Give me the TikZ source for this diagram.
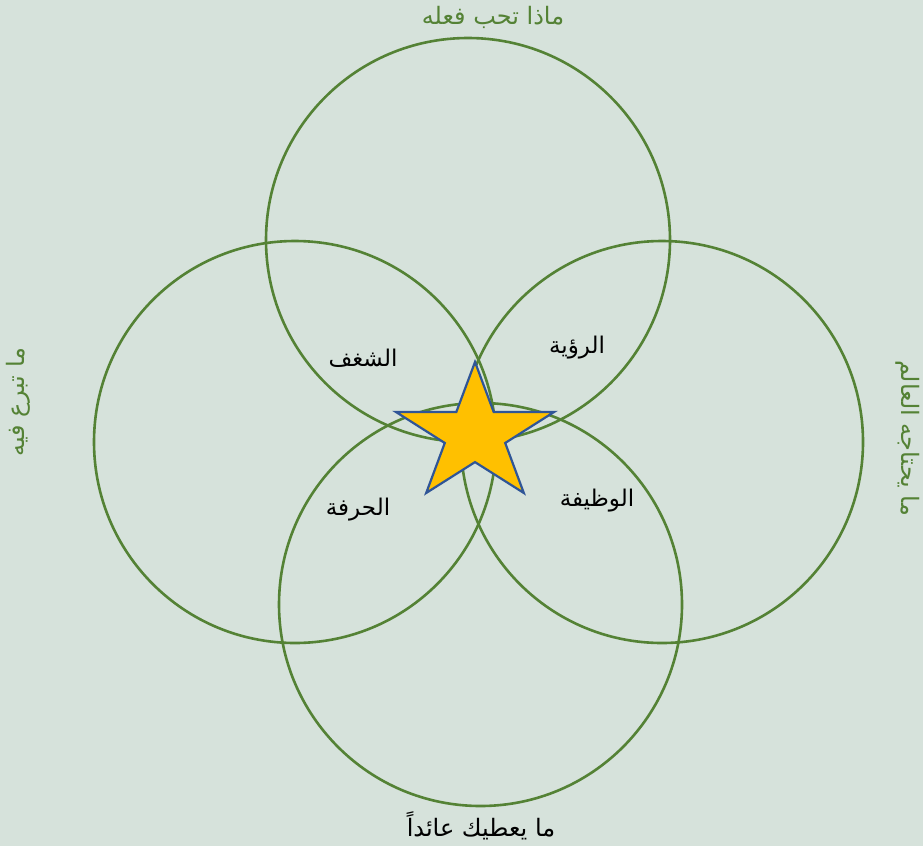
\documentclass[tikz,border=0pt]{standalone}
\usepackage{fontspec}
\TeXXeTstate=1
\newfontfamily\arabicfont[Script=Arabic]{DejaVu Sans}
\definecolor{bgc}{HTML}{D6E2DB}
\definecolor{ringc}{HTML}{548235}
\definecolor{starfill}{HTML}{FFC000}
\definecolor{starline}{HTML}{2F5597}
\tikzset{
  ring/.style={draw=ringc, line width=2.6pt},
  outerlbl/.style={font=\arabicfont\fontsize{24}{27}\selectfont, text=ringc, inner sep=0pt},
  innerlbl/.style={font=\arabicfont\fontsize{23}{26}\selectfont, text=black, inner sep=0pt},
}
\begin{document}
\begin{tikzpicture}[x=1pt,y=-1pt]
\fill[bgc] (0,0) rectangle (923,846);
\useasboundingbox (0,0) rectangle (923,846);
\begin{scope}
\clip (0,0) rectangle (923,846);
% circles
\coordinate (top) at (468,240);
\coordinate (left) at (295,442);
\coordinate (right) at (662,442);
\coordinate (bottom) at (480.5,604.5);
\draw[ring] (top) circle[radius=202pt];
\draw[ring] (left) circle[radius=201pt];
\draw[ring] (right) circle[radius=201pt];
\draw[ring] (bottom) circle[radius=201.5pt];
% star
\begin{scope}[shift={(475,434.4)}, xscale=1.147, y=1pt]
\draw[fill=starfill, draw=starline, line width=2.2pt, line join=miter]
  (90:72.4) -- (126:27.7) -- (162:72.4) -- (198:27.7) -- (234:72.4)
  -- (270:27.7) -- (306:72.4) -- (342:27.7) -- (18:72.4) -- (54:27.7) -- cycle;
\end{scope}
% outer labels
\node[outerlbl] (t1) at (493,17) {\beginR ماذا تحب فعله\endR};
\node[outerlbl, rotate=90] (t2) at (18,402) {\beginR ما تبرع فيه\endR};
\node[outerlbl, rotate=-90] (t3) at (908,438) {\beginR ما يحتاجه العالم\endR};
\node[outerlbl, text=black] (t4) at (481,826) {\beginR ما يعطيك عائداً\endR};
% inner labels
\node[innerlbl] (a) at (363,358) {\beginR الشغف\endR};
\node[innerlbl] (b) at (577,348) {\beginR الرؤية\endR};
\node[innerlbl] (c) at (358,510) {\beginR الحرفة\endR};
\node[innerlbl] (d) at (597,501) {\beginR الوظيفة\endR};
\end{scope}
\end{tikzpicture}
\end{document}
